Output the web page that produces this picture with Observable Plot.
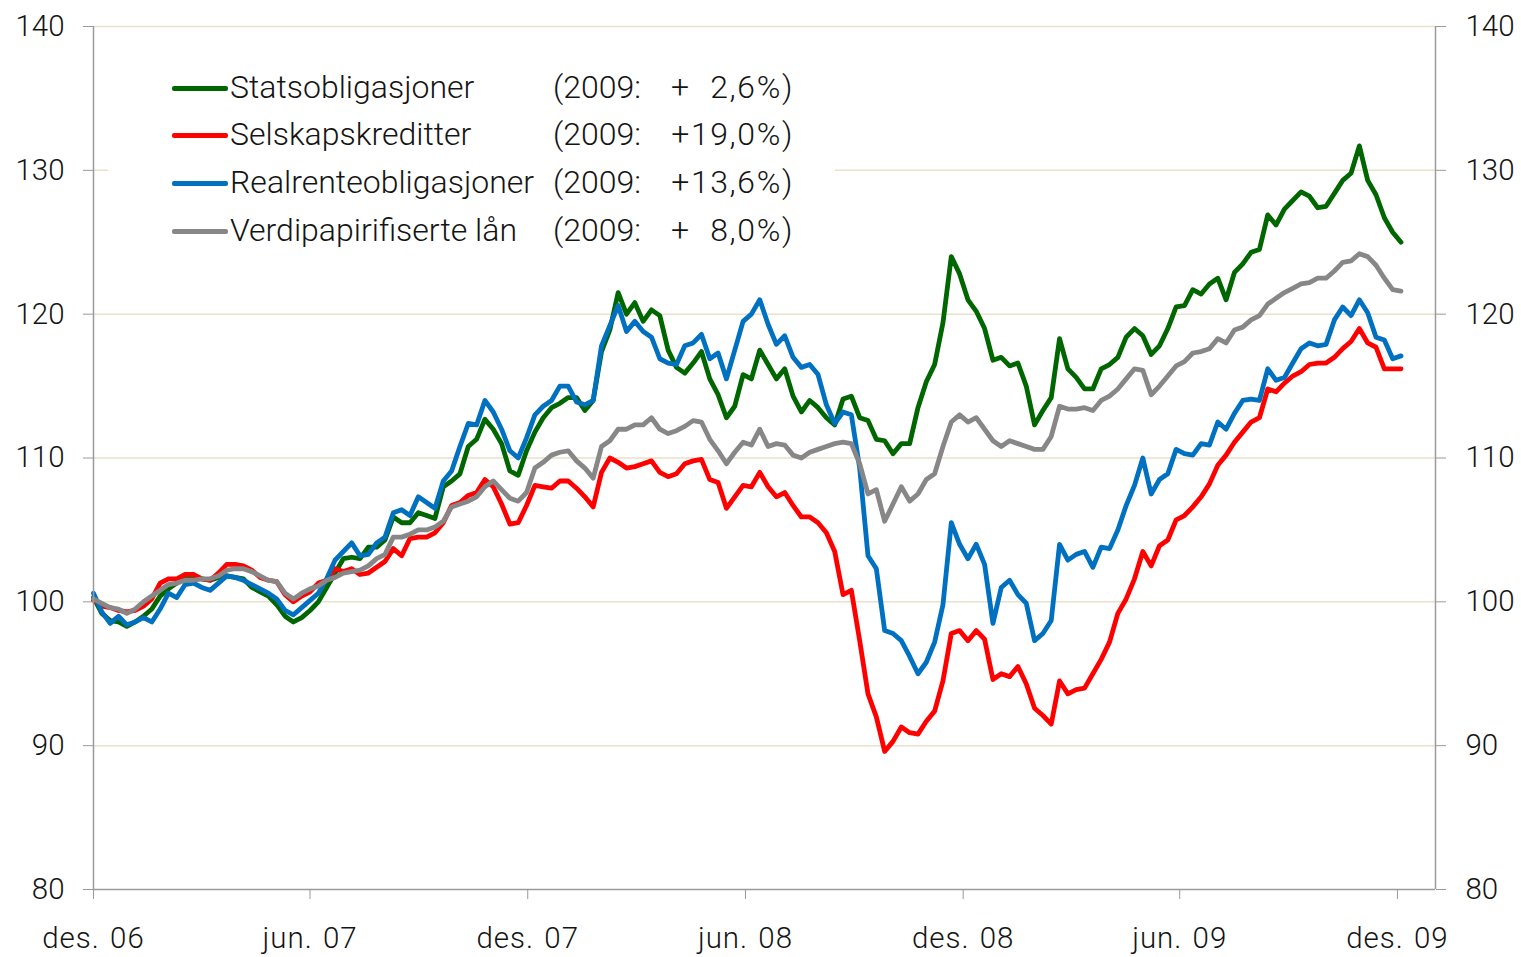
<!DOCTYPE html>
<html>
<head>
<meta charset="utf-8">
<script src="https://cdn.jsdelivr.net/npm/d3@7"></script>
<script src="https://cdn.jsdelivr.net/npm/@observablehq/plot@0.6"></script>
<style>
html, body { margin: 0; padding: 0; background: #fff; }
#wrap { position: relative; width: 1521px; height: 957px; font-family: Roboto, "Liberation Sans", sans-serif; font-weight: 300; color: #141414; }
#legend { position: absolute; left: 108px; top: 60px; width: 727px; height: 195px; background: #fff; }
.row { position: absolute; left: 0; width: 727px; height: 40px; line-height: 40px; font-size: 32px; white-space: nowrap; }
.swatch { position: absolute; left: 64px; top: 19px; width: 56px; height: 4.8px; border-radius: 2px; }
.name { position: absolute; left: 122px; top: 0; }
.yr { position: absolute; left: 445px; top: 0; }
.pct { position: absolute; right: 41px; top: 0; text-align: right; font-variant-numeric: tabular-nums; letter-spacing: 1.6px; }
#chart svg .xax text { letter-spacing: 1px; word-spacing: 2px; }
</style>
</head>
<body>
<div id="wrap"><div id="chart"></div><div id="legend"></div></div>
<script>
// Series names, colours and legend annotations
const seriesNames = ["Statsobligasjoner", "Selskapskreditter", "Realrenteobligasjoner", "Verdipapirifiserte lån"];
const seriesColors = ["#006600", "#ff0000", "#0070c0", "#878787"];
const legendYear = "(2009:";
const legendPct = ["+\u20072,6%)", "+19,0%)", "+13,6%)", "+\u20078,0%)"];

// Weekly index values (start 1 Dec 2006, one value per week)
const statsobligasjoner = [
  100.3, 99.2, 98.7, 98.6, 98.3, 98.6, 99.0, 99.5, 100.4, 100.9,
  101.3, 101.7, 101.8, 101.6, 101.5, 101.7, 101.8, 101.7, 101.6, 101.0,
  100.7, 100.4, 99.8, 99.0, 98.6, 98.9, 99.4, 100.0, 101.0, 102.0,
  103.0, 103.1, 103.0, 103.8, 103.8, 104.3, 105.9, 105.5, 105.5, 106.2,
  106.0, 105.8, 108.0, 108.4, 108.9, 110.8, 111.3, 112.7, 112.0, 111.0,
  109.1, 108.8, 110.5, 111.8, 112.8, 113.5, 113.8, 114.2, 114.2, 113.3,
  114.0, 117.4, 118.9, 121.5, 120.0, 120.8, 119.5, 120.3, 119.9, 117.5,
  116.3, 115.9, 116.6, 117.4, 115.5, 114.4, 112.8, 113.6, 115.8, 115.5,
  117.5, 116.5, 115.5, 116.2, 114.3, 113.2, 114.0, 113.5, 112.8, 112.3,
  114.1, 114.3, 112.8, 112.6, 111.3, 111.2, 110.3, 111.0, 111.0, 113.5,
  115.3, 116.5, 119.4, 124.0, 122.8, 121.0, 120.2, 119.0, 116.8, 117.0,
  116.4, 116.6, 115.0, 112.3, 113.3, 114.2, 118.3, 116.2, 115.6, 114.8,
  114.8, 116.2, 116.5, 117.0, 118.4, 119.0, 118.5, 117.2, 117.8, 119.0,
  120.5, 120.6, 121.7, 121.4, 122.1, 122.5, 121.0, 122.9, 123.5, 124.3,
  124.5, 126.9, 126.2, 127.3, 127.9, 128.5, 128.2, 127.4, 127.5, 128.4,
  129.3, 129.8, 131.7, 129.3, 128.3, 126.7, 125.7, 125.0
];
const selskapskreditter = [
  100.1, 99.7, 99.6, 99.4, 99.3, 99.4, 99.7, 100.2, 101.3, 101.6,
  101.6, 101.9, 101.9, 101.6, 101.5, 102.0, 102.6, 102.6, 102.5, 102.2,
  101.7, 101.5, 101.4, 100.5, 100.0, 100.4, 100.7, 101.3, 101.5, 102.3,
  102.1, 102.3, 101.9, 102.0, 102.4, 102.8, 103.7, 103.2, 104.4, 104.5,
  104.5, 104.8, 105.5, 106.7, 106.9, 107.4, 107.6, 108.5, 108.0, 106.8,
  105.4, 105.5, 106.7, 108.1, 108.0, 107.9, 108.4, 108.4, 107.9, 107.3,
  106.6, 109.0, 110.0, 109.7, 109.3, 109.4, 109.6, 109.8, 109.0, 108.7,
  108.9, 109.6, 109.8, 109.9, 108.5, 108.3, 106.5, 107.3, 108.1, 108.0,
  109.0, 108.0, 107.3, 107.6, 106.7, 105.9, 105.9, 105.5, 104.8, 103.5,
  100.5, 100.8, 97.3, 93.6, 92.0, 89.6, 90.3, 91.3, 90.9, 90.8,
  91.7, 92.4, 94.5, 97.8, 98.0, 97.3, 98.0, 97.4, 94.6, 95.0,
  94.8, 95.5, 94.3, 92.6, 92.1, 91.5, 94.5, 93.6, 93.9, 94.0,
  95.0, 96.0, 97.2, 99.2, 100.2, 101.6, 103.5, 102.5, 103.9, 104.3,
  105.7, 106.0, 106.6, 107.3, 108.2, 109.5, 110.2, 111.1, 111.8, 112.5,
  112.8, 114.8, 114.6, 115.2, 115.7, 116.0, 116.5, 116.6, 116.6, 117.0,
  117.6, 118.1, 119.0, 118.0, 117.7, 116.2, 116.2, 116.2
];
const realrenteobligasjoner = [
  100.6, 99.3, 98.5, 99.0, 98.4, 98.6, 98.9, 98.6, 99.5, 100.6,
  100.3, 101.2, 101.3, 101.0, 100.8, 101.3, 101.8, 101.7, 101.5, 101.2,
  100.9, 100.6, 100.2, 99.4, 99.1, 99.6, 100.1, 100.6, 101.6, 102.9,
  103.5, 104.1, 103.2, 103.3, 104.1, 104.5, 106.2, 106.4, 106.0, 107.3,
  106.9, 106.5, 108.4, 109.1, 110.8, 112.4, 112.3, 114.0, 113.2, 112.0,
  110.5, 110.0, 111.4, 113.0, 113.6, 114.0, 115.0, 115.0, 113.9, 113.7,
  114.0, 117.8, 119.2, 120.6, 118.8, 119.5, 118.8, 118.4, 116.9, 116.6,
  116.5, 117.8, 118.0, 118.6, 116.9, 117.3, 115.5, 117.5, 119.5, 120.0,
  121.0, 119.3, 117.9, 118.5, 117.0, 116.3, 116.5, 115.8, 113.7, 112.4,
  113.2, 113.0, 109.3, 103.2, 102.3, 98.0, 97.8, 97.3, 96.2, 95.0,
  95.8, 97.2, 99.8, 105.5, 104.0, 103.0, 104.0, 102.6, 98.5, 101.0,
  101.5, 100.5, 99.9, 97.3, 97.8, 98.7, 104.0, 102.9, 103.3, 103.5,
  102.4, 103.8, 103.7, 105.0, 106.7, 108.1, 110.0, 107.5, 108.5, 108.9,
  110.6, 110.3, 110.2, 111.0, 110.9, 112.5, 112.0, 113.1, 114.0, 114.1,
  114.0, 116.2, 115.4, 115.6, 116.6, 117.6, 118.0, 117.8, 117.9, 119.6,
  120.5, 119.9, 121.0, 120.1, 118.4, 118.2, 116.9, 117.1
];
const verdipapirifiserteLaan = [
  100.2, 99.9, 99.6, 99.5, 99.2, 99.5, 100.0, 100.4, 100.8, 101.2,
  101.3, 101.5, 101.5, 101.6, 101.6, 101.8, 102.2, 102.3, 102.3, 102.1,
  101.8, 101.5, 101.4, 100.6, 100.2, 100.6, 100.9, 101.1, 101.5, 101.7,
  102.0, 102.1, 102.2, 102.5, 103.0, 103.3, 104.5, 104.5, 104.7, 105.0,
  105.0, 105.2, 105.6, 106.6, 106.8, 107.0, 107.3, 108.0, 108.4, 107.8,
  107.2, 107.0, 107.6, 109.3, 109.7, 110.2, 110.4, 110.5, 109.8, 109.3,
  108.6, 110.8, 111.2, 112.0, 112.0, 112.3, 112.3, 112.8, 112.0, 111.7,
  111.9, 112.2, 112.6, 112.5, 111.3, 110.5, 109.6, 110.4, 111.1, 110.9,
  112.0, 110.8, 111.0, 110.9, 110.2, 110.0, 110.4, 110.6, 110.8, 111.0,
  111.1, 111.0, 109.6, 107.5, 107.8, 105.6, 106.8, 108.0, 107.0, 107.5,
  108.5, 108.9, 110.8, 112.5, 113.0, 112.5, 112.8, 112.0, 111.2, 110.8,
  111.2, 111.0, 110.8, 110.6, 110.6, 111.5, 113.6, 113.4, 113.4, 113.5,
  113.3, 114.0, 114.3, 114.8, 115.5, 116.2, 116.1, 114.4, 115.0, 115.7,
  116.4, 116.7, 117.3, 117.4, 117.6, 118.3, 118.0, 118.9, 119.1, 119.6,
  119.9, 120.7, 121.1, 121.5, 121.8, 122.1, 122.2, 122.5, 122.5, 123.0,
  123.6, 123.7, 124.2, 124.0, 123.4, 122.5, 121.7, 121.6
];

// Axis ticks
const yTicks = [80, 90, 100, 110, 120, 130, 140];
const gridValues = [90, 100, 110, 120, 130, 140];
const xTickDates = ["2006-12-01", "2007-06-01", "2007-12-01", "2008-06-01", "2008-12-01", "2009-06-01", "2009-12-01"];
const xTickLabels = ["des. 06", "jun. 07", "des. 07", "jun. 08", "des. 08", "jun. 09", "des. 09"];
const xDomainDates = ["2006-12-01", "2010-01-02"];
const startDate = "2006-12-01";

const allSeries = [statsobligasjoner, selskapskreditter, realrenteobligasjoner, verdipapirifiserteLaan];
const t0 = new Date(startDate + "T00:00:00Z");
const rows = [];
allSeries.forEach((vals, s) => {
  vals.forEach((v, i) => {
    rows.push({ date: d3.utcDay.offset(t0, 7 * i), value: v, name: seriesNames[s] });
  });
});
const parse = s => new Date(s + "T00:00:00Z");
const xDomain = xDomainDates.map(parse);
const xTicks = xTickDates.map(parse);
const labelMap = new Map(xTicks.map((d, i) => [+d, xTickLabels[i]]));
const axisColor = "#9a9a9a";

const chart = Plot.plot({
  width: 1521,
  height: 957,
  marginLeft: 93,
  marginRight: 86,
  marginTop: 26,
  marginBottom: 68,
  style: "font-family: Roboto, 'Liberation Sans', sans-serif; font-weight: 300; font-size: 28px; color: #141414; background: transparent; overflow: visible;",
  x: { type: "utc", domain: xDomain },
  y: { domain: [80, 140] },
  color: { domain: seriesNames, range: seriesColors },
  marks: [
    Plot.ruleY(gridValues, { stroke: "#e9e1cc", strokeWidth: 1.5 }),
    Plot.line(rows, { x: "date", y: "value", z: "name", stroke: "name", strokeWidth: 4.8, strokeLinejoin: "round", strokeLinecap: "round" }),
    Plot.ruleX(xDomain, { stroke: axisColor, strokeWidth: 1.5 }),
    Plot.ruleY([80], { stroke: axisColor, strokeWidth: 1.5 }),
    Plot.axisY({ anchor: "left", label: null, ticks: yTicks, tickSize: 10, tickPadding: 19, stroke: axisColor, fontSize: 29.5 }),
    Plot.axisY({ anchor: "right", label: null, ticks: yTicks, tickSize: 10, tickPadding: 20, stroke: axisColor, fontSize: 29.5 }),
    Plot.axisX({ label: null, ticks: xTicks, tickFormat: d => labelMap.get(+d), tickSize: 10, tickPadding: 28, stroke: axisColor, fontSize: 29.5, className: "xax" })
  ]
});
document.getElementById("chart").appendChild(chart);

// Legend
const legend = document.getElementById("legend");
const rowTops = [7, 54, 102, 150];
seriesNames.forEach((name, i) => {
  const r = document.createElement("div");
  r.className = "row";
  r.style.top = rowTops[i] + "px";
  r.innerHTML =
    `<span class="swatch" style="background:${seriesColors[i]}"></span>` +
    `<span class="name">${name}</span>` +
    `<span class="yr">${legendYear}</span>` +
    `<span class="pct">${legendPct[i]}</span>`;
  legend.appendChild(r);
});
</script>
</body>
</html>
